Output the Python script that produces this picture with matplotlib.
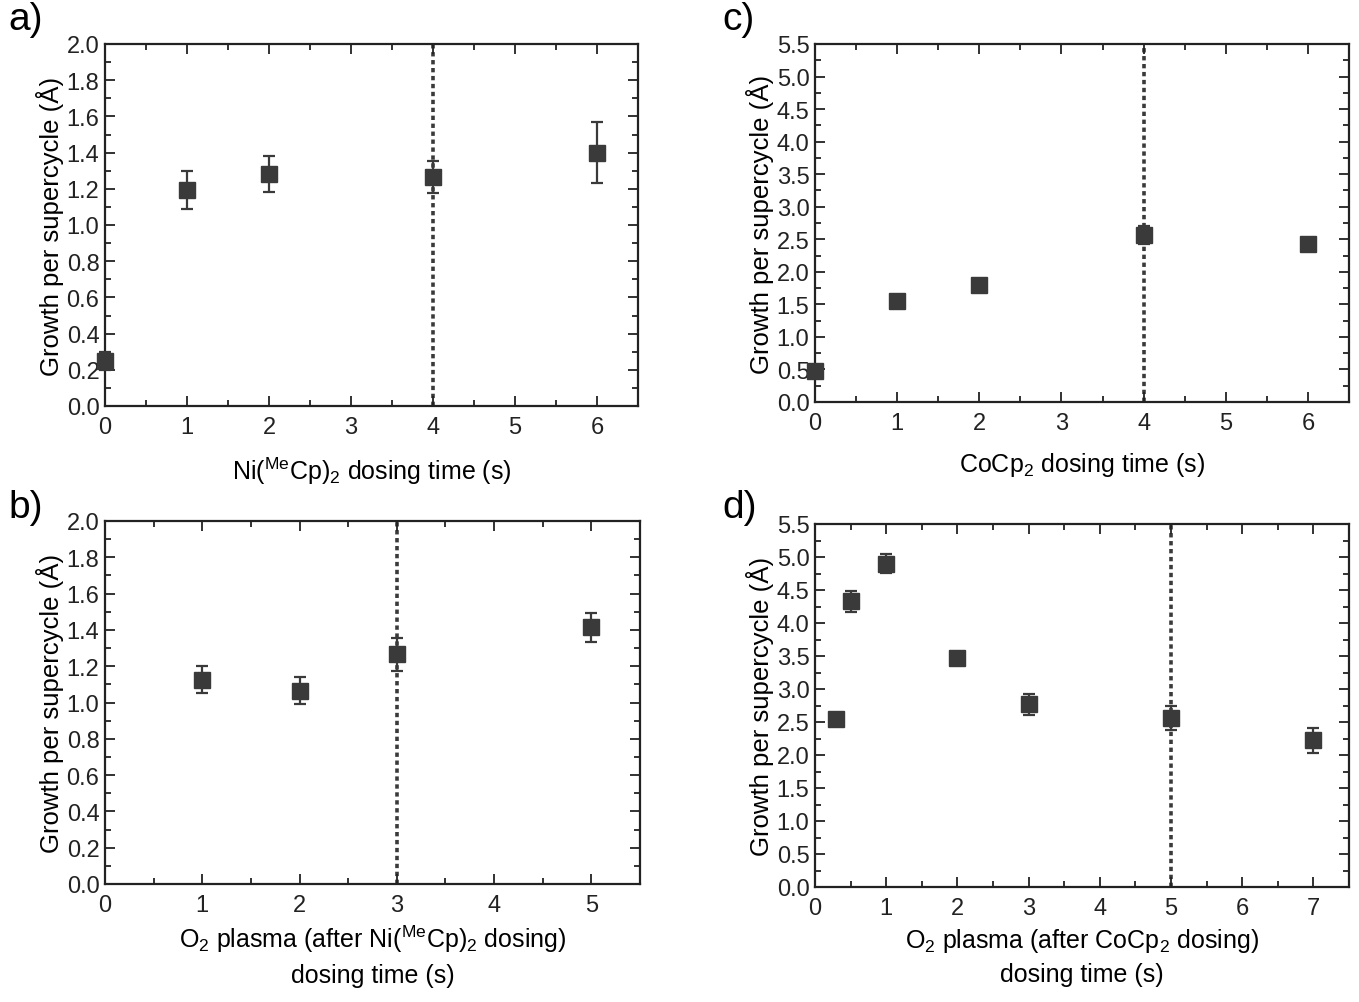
import matplotlib
matplotlib.use("Agg")
import matplotlib.pyplot as plt
from matplotlib.ticker import MultipleLocator, FormatStrFormatter

plt.rcParams['font.family'] = ['Liberation Sans', 'DejaVu Sans']
plt.rcParams['mathtext.fontset'] = 'custom'
plt.rcParams['mathtext.rm'] = 'Liberation Sans'
plt.rcParams['mathtext.it'] = 'Liberation Sans'

# Panel a: Ni(MeCp)2 dosing time
a_x = [0, 1, 2, 4, 6]
a_y = [0.25, 1.195, 1.28, 1.265, 1.40]
a_err = [0.05, 0.105, 0.10, 0.09, 0.17]
a_line = 4

# Panel b: O2 plasma after Ni(MeCp)2
b_x = [1, 2, 3, 5]
b_y = [1.125, 1.065, 1.265, 1.415]
b_err = [0.075, 0.075, 0.09, 0.08]
b_line = 3

# Panel c: CoCp2 dosing time
c_x = [0, 1, 2, 4, 6]
c_y = [0.48, 1.55, 1.80, 2.57, 2.42]
c_err = [0.05, 0.05, 0.05, 0.14, 0.05]
c_line = 4

# Panel d: O2 plasma after CoCp2
d_x = [0.3, 0.5, 1, 2, 3, 5, 7]
d_y = [2.54, 4.33, 4.90, 3.47, 2.77, 2.56, 2.22]
d_err = [0.06, 0.16, 0.14, 0.06, 0.16, 0.18, 0.19]
d_line = 5

W, H = 1359, 1003
fig = plt.figure(figsize=(W / 100, H / 100), dpi=100)

def rect(l, r, t, b):
    return [l / W, 1 - b / H, (r - l) / W, (b - t) / H]

col = '#3a3a3a'
ylabel = 'Growth per supercycle (Å)'

def panel(r, x, y, err, vline, xmax, ymax, ymaj, xlabel, letter, lpos, xlpad):
    ax = fig.add_axes(rect(*r))
    ax.axvline(vline, color=col, ls=(0, (1.2, 1.0)), lw=2.6, zorder=1)
    ax.errorbar(x, y, yerr=err, fmt='s', color=col, ms=11.5, mec=col,
                ecolor=col, elinewidth=1.6, capsize=4, capthick=1.6, zorder=3,
                clip_on=False)
    ax.set_xlim(0, xmax)
    ax.set_ylim(0, ymax)
    ax.xaxis.set_major_locator(MultipleLocator(1))
    ax.xaxis.set_minor_locator(MultipleLocator(0.5))
    ax.yaxis.set_major_locator(MultipleLocator(ymaj))
    ax.yaxis.set_minor_locator(MultipleLocator(ymaj / 2))
    ax.yaxis.set_major_formatter(FormatStrFormatter('%.1f'))
    ax.tick_params(which='both', direction='in', top=True, right=True,
                   labelsize=17, width=1.3, colors='#222222')
    ax.tick_params(which='major', length=7, pad=4)
    ax.tick_params(axis='x', which='major', pad=7)
    ax.tick_params(which='minor', length=4.5)
    for s in ax.spines.values():
        s.set_linewidth(1.6)
        s.set_color('#222222')
    ax.set_ylabel(ylabel, fontsize=18.5, labelpad=2)
    ax.set_xlabel(xlabel, fontsize=18, labelpad=xlpad, linespacing=1.45)
    fig.text(lpos[0] / W, 1 - lpos[1] / H, letter, fontsize=28, va='center', ha='left')
    return ax

panel((105, 638, 45, 407), a_x, a_y, a_err, a_line, 6.5, 2.0, 0.2,
      r'Ni($^{\mathrm{Me}}$Cp)$_2$ dosing time (s)', 'a)', (8, 20), 12)
panel((105, 640, 522, 885), b_x, b_y, b_err, b_line, 5.5, 2.0, 0.2,
      'O$_2$ plasma (after Ni($^{\\mathrm{Me}}$Cp)$_2$ dosing)\ndosing time (s)', 'b)', (8, 508), 5)
panel((815, 1349, 45, 403), c_x, c_y, c_err, c_line, 6.5, 5.5, 0.5,
      r'CoCp$_2$ dosing time (s)', 'c)', (722, 20), 12)
panel((815, 1349, 525, 888), d_x, d_y, d_err, d_line, 7.5, 5.5, 0.5,
      'O$_2$ plasma (after CoCp$_2$ dosing)\ndosing time (s)', 'd)', (722, 508), 5)

fig.savefig('out.png', dpi=100)
